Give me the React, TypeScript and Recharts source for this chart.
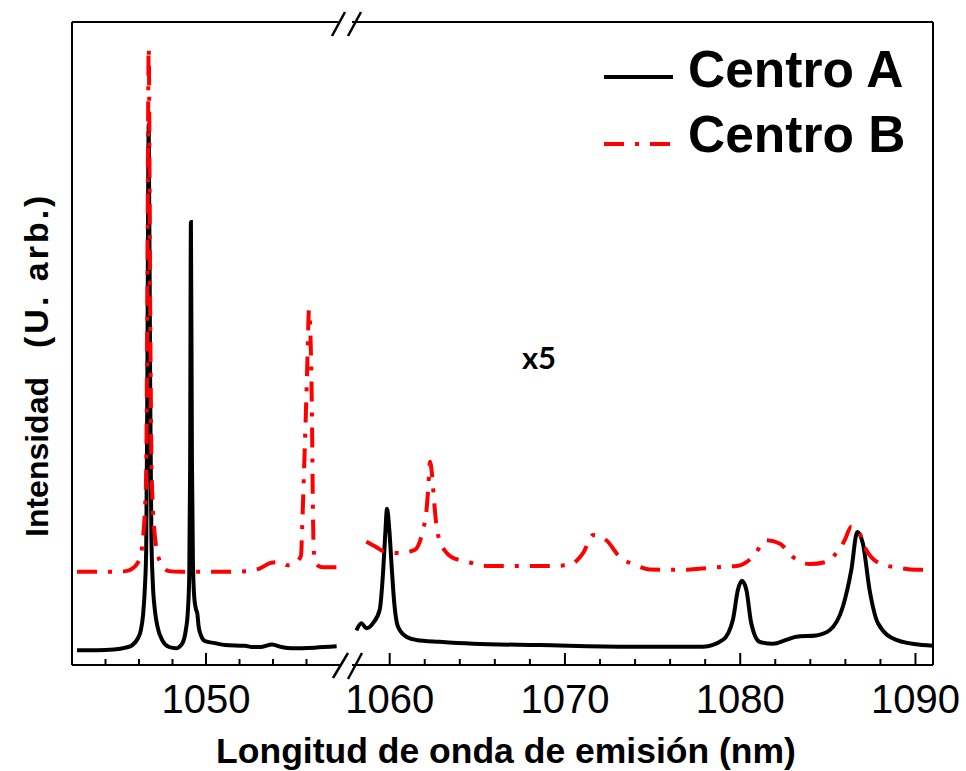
import { LineChart, Line, XAxis, YAxis, Legend } from 'recharts';

// Centro A, left segment (1042-1058 nm)
const wlALeft = [
  1042.3, 1043.5, 1044.5, 1045.2, 1045.6, 1045.9, 1046.1, 1046.25, 1046.35, 1046.43,
  1046.49, 1046.58, 1046.67, 1046.74, 1046.82, 1046.95, 1047.1, 1047.4, 1047.8, 1048.2,
  1048.57, 1048.8, 1048.92, 1049.0, 1049.05, 1049.1, 1049.16, 1049.22, 1049.3, 1049.4,
  1049.48, 1049.56, 1049.7, 1049.94, 1050.54, 1051.13, 1052.33, 1052.75, 1053.3, 1053.94,
  1054.5, 1055.13, 1056.5, 1057.8,
];
const intALeft = [
  2.3, 2.3, 2.4, 2.7, 3.1, 4.0, 5.3, 8, 12, 18,
  40, 84, 42, 20, 13, 8.5, 6, 3.8, 2.8, 2.6,
  3.3, 5.5, 8.5, 14, 30, 68.9, 32, 16, 10.5, 8.7,
  8.0, 6, 4.6, 3.7, 3.4, 3.1, 3.0, 2.8, 2.8, 3.2,
  2.8, 2.6, 2.7, 2.9,
];

// Centro B, left segment
const wlBLeft = [
  1042.3, 1043.5, 1044.5, 1045.2, 1045.6, 1045.9, 1046.1, 1046.25, 1046.35, 1046.43,
  1046.49, 1046.58, 1046.67, 1046.74, 1046.82, 1046.95, 1047.1, 1047.4, 1047.8, 1048.5,
  1049.5, 1050.5, 1051.5, 1052.6, 1053.2, 1053.9, 1054.4, 1054.9, 1055.3, 1055.67,
  1055.75, 1055.85, 1055.95, 1056.05, 1056.15, 1056.25, 1056.33, 1056.38, 1056.43, 1056.52,
  1056.65, 1057.0, 1057.8,
];
const intBLeft = [
  14.5, 14.5, 14.5, 14.6, 15.0, 15.8, 17.0, 20, 24, 30,
  52, 96, 54, 32, 25, 20, 17.5, 15.4, 14.6, 14.5,
  14.5, 14.5, 14.5, 14.6, 15.0, 15.9, 16.0, 15.5, 15.8, 17,
  22, 30, 38, 47, 55.2, 50, 38, 25, 18, 16,
  15.5, 15.2, 15.2,
];

// Centro A, right segment (x5)
const wlARight = [
  1058.1, 1058.39, 1058.67, 1059.05, 1059.43, 1059.62, 1059.74, 1059.85, 1059.98, 1060.12,
  1060.25, 1060.47, 1060.95, 1061.52, 1062.85, 1064.75, 1068.56, 1073.69, 1077.87, 1079.01,
  1079.58, 1079.87, 1080.1, 1080.35, 1080.63, 1081.11, 1081.87, 1082.63, 1083.2, 1084.34,
  1085.1, 1085.86, 1086.34, 1086.68, 1087.0, 1087.38, 1087.86, 1088.9, 1090.4, 1091.0,
];
const intARight = [
  5.4, 6.5, 5.7, 6.5, 8.6, 14.3, 20, 24.3, 21, 15,
  10, 6.0, 4.4, 3.9, 3.6, 3.3, 3.1, 2.85, 2.85, 3.9,
  7.0, 11.7, 13.1, 11.7, 6.5, 3.6, 3.3, 3.9, 4.4, 4.6,
  5.4, 9.1, 14.8, 20.7, 18.9, 11.7, 6.5, 3.9, 3.1, 3.0,
];

// Centro B, right segment (x5)
const wlBRight = [
  1058.67, 1059.2, 1059.71, 1060.57, 1061.43, 1061.9, 1062.1, 1062.2, 1062.3, 1062.42,
  1062.55, 1062.7, 1062.85, 1063.2, 1063.52, 1064.38, 1065.52, 1067.23, 1069.22, 1070.27,
  1071.03, 1071.6, 1072.36, 1073.12, 1073.98, 1074.83, 1075.97, 1076.93, 1077.78, 1079.21,
  1079.81, 1080.72, 1081.49, 1082.25, 1083.01, 1083.96, 1085.0, 1085.48, 1085.96, 1086.34,
  1086.81, 1087.19, 1088.14, 1088.9, 1090.05, 1091.0,
];
const intBRight = [
  19.2, 18.4, 17.6, 17.4, 17.9, 21.0, 24, 27.5, 31.6, 29.5,
  25, 21, 19.4, 17.6, 16.8, 16.1, 15.4, 15.4, 15.4, 15.6,
  17.4, 20.2, 19.4, 16.8, 15.6, 14.85, 14.8, 14.8, 15.0, 15.3,
  15.4, 16.8, 19.4, 18.9, 16.8, 15.7, 16.1, 17.4, 19.4, 21.5,
  20.5, 17.9, 15.6, 15.2, 14.8, 14.8,
];

const ticksLeft = [1044, 1046, 1048, 1050, 1052, 1054, 1056];
const ticksRight = [1060, 1062, 1064, 1066, 1068, 1070, 1072, 1074, 1076, 1078, 1080, 1082, 1084, 1086, 1088, 1090];
const labeledTicks = [1050, 1060, 1070, 1080, 1090];

const seriesNames = ['Centro A', 'Centro B'];
const seriesColors = ['#000000', '#ff0000'];
const seriesDash = ['', '20 11 4 11'];

const toPoints = (wl: number[], v: number[]) => wl.map((w, i) => ({ wl: w, v: v[i] }));

const FONT = '"Liberation Sans", Arial, sans-serif';
const axisLine = { stroke: '#000', strokeWidth: 2 };

const AxisTick = (props: any) => {
  const { x, y, payload } = props;
  const major = labeledTicks.includes(payload.value);
  return (
    <g>
      <line x1={x} y1={y} x2={x} y2={y - (major ? 12 : 6)} stroke="#000" strokeWidth={2} />
      {major && (
        <text x={x} y={y + 48} textAnchor="middle" fontSize={40} fontFamily={FONT} fill="#000">
          {payload.value}
        </text>
      )}
    </g>
  );
};

const LegendBox = () => (
  <svg width={340} height={130}>
    {seriesNames.map((name, i) => (
      <g key={name}>
        <line
          x1={4}
          x2={73}
          y1={42 + i * 67}
          y2={42 + i * 67}
          stroke={seriesColors[i]}
          strokeWidth={4}
          strokeDasharray={seriesDash[i] || undefined}
        />
        <text x={88} y={52 + i * 65} fontSize={51.5} fontWeight="bold" fontFamily={FONT} fill="#000">
          {name}
        </text>
      </g>
    ))}
  </svg>
);

export default function App() {
  return (
    <div style={{ position: 'absolute', left: 0, top: 0, width: 966, height: 771, background: '#fff' }}>
      <div style={{ position: 'absolute', left: 0, top: 0 }}>
        <LineChart width={340} height={771} margin={{ top: 21, right: 0, bottom: 46, left: 71 }}>
          <XAxis
            xAxisId="b"
            dataKey="wl"
            type="number"
            domain={[1042, 1058]}
            ticks={ticksLeft}
            interval={0}
            tick={<AxisTick />}
            tickLine={false}
            tickSize={0}
            tickMargin={0}
            height={60}
            axisLine={axisLine}
            allowDataOverflow
          />
          <XAxis xAxisId="t" orientation="top" dataKey="wl" type="number" domain={[1042, 1058]} tick={false} tickLine={false} height={1} axisLine={axisLine} allowDataOverflow />
          <YAxis domain={[0, 100]} tick={false} tickLine={false} width={1} axisLine={axisLine} allowDataOverflow />
          <Line xAxisId="b" data={toPoints(wlALeft, intALeft)} dataKey="v" name={seriesNames[0]} type="monotone" stroke={seriesColors[0]} strokeWidth={4} dot={false} isAnimationActive={false} />
          <Line xAxisId="b" data={toPoints(wlBLeft, intBLeft)} dataKey="v" name={seriesNames[1]} type="monotone" stroke={seriesColors[1]} strokeWidth={4} strokeDasharray={seriesDash[1]} dot={false} isAnimationActive={false} />
        </LineChart>
      </div>
      <div style={{ position: 'absolute', left: 300, top: 0 }}>
        <LineChart width={666} height={771} margin={{ top: 21, right: 32, bottom: 46, left: 52 }}>
          <XAxis
            xAxisId="b"
            dataKey="wl"
            type="number"
            domain={[1057.85, 1091]}
            ticks={ticksRight}
            interval={0}
            tick={<AxisTick />}
            tickLine={false}
            tickSize={0}
            tickMargin={0}
            height={60}
            axisLine={axisLine}
            allowDataOverflow
          />
          <XAxis xAxisId="t" orientation="top" dataKey="wl" type="number" domain={[1057.85, 1091]} tick={false} tickLine={false} height={1} axisLine={axisLine} allowDataOverflow />
          <YAxis orientation="right" domain={[0, 100]} tick={false} tickLine={false} width={1} axisLine={axisLine} allowDataOverflow />
          <Line xAxisId="b" data={toPoints(wlARight, intARight)} dataKey="v" name={seriesNames[0]} type="monotone" stroke={seriesColors[0]} strokeWidth={4} dot={false} isAnimationActive={false} />
          <Line xAxisId="b" data={toPoints(wlBRight, intBRight)} dataKey="v" name={seriesNames[1]} type="monotone" stroke={seriesColors[1]} strokeWidth={4} strokeDasharray={seriesDash[1]} dot={false} isAnimationActive={false} />
          <Legend
            layout="horizontal"
            verticalAlign="middle"
            align="center"
            content={<LegendBox />}
            wrapperStyle={{ position: 'absolute', left: 300, top: 35, width: 340, height: 130 }}
          />
        </LineChart>
      </div>
      <svg width={966} height={771} style={{ position: 'absolute', left: 0, top: 0, pointerEvents: 'none' }}>
        <g stroke="#000" strokeWidth={2.5}>
          <line x1={332} y1={36} x2={345} y2={12} />
          <line x1={348} y1={36} x2={361} y2={12} />
          <line x1={333} y1={678} x2={348} y2={653} />
          <line x1={348} y1={679} x2={362} y2={653} />
        </g>
        <text x={539} y={369} textAnchor="middle" fontSize={31} fontWeight="bold" fontFamily="Lato, 'Open Sans', sans-serif" fill="#000">
          x5
        </text>
        <text x={506} y={763} textAnchor="middle" fontSize={35.5} fontWeight="bold" fontFamily={FONT} fill="#000">
          Longitud de onda de emisión (nm)
        </text>
        <text transform="rotate(-90)" y={48} fontSize={32} fontWeight="bold" fontFamily={FONT} fill="#000">
          <tspan x={-537}>Intensidad</tspan>
          <tspan x={-348} fontSize={34} letterSpacing={3}>(U. arb.)</tspan>
        </text>
      </svg>
    </div>
  );
}
